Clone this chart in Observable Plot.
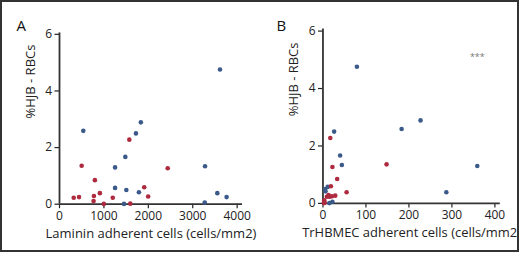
<!DOCTYPE html>
<html>
<head>
<meta charset="utf-8">
<script src="https://cdn.jsdelivr.net/npm/d3@7"></script>
<script src="https://cdn.jsdelivr.net/npm/@observablehq/plot@0.6"></script>
<style>
  html, body { margin: 0; padding: 0; background: #fff; }
  #wrap { position: relative; width: 520px; height: 257px; overflow: hidden; background: #fff; }
  #frame { position: absolute; left: 0; top: 0; width: 519px; height: 252px; overflow: hidden; }
  #border { position: absolute; left: 0; top: 0; width: 519px; height: 252px; box-sizing: border-box; border: 2px solid #333; pointer-events: none; }
  .panel { position: absolute; top: 0; }
</style>
</head>
<body>
<div id="wrap">
  <div id="frame">
    <div class="panel" id="panelA" style="left:0px"></div>
    <div class="panel" id="panelB" style="left:260px"></div>
  </div>
  <div id="border"></div>
</div>
<script>
// ---- data ----
const blueHJB      = [4.76, 2.89, 2.59, 2.50, 1.67, 1.34, 1.30, 0.575, 0.50, 0.42, 0.39, 0.25, 0.06, 0.01];
const blueLaminin  = [3613, 1832, 536, 1721, 1482, 3277, 1251, 1251, 1505, 1788, 3553, 3762, 3270, 1452];
const blueTrHBMEC  = [79, 227, 183, 26, 40, 44, 359, 11, 5, 6, 287, 13, 22, 15];

const redHJB       = [2.28, 1.36, 1.27, 0.85, 0.60, 0.39, 0.29, 0.27, 0.25, 0.23, 0.23, 0.11, 0.02, 0.01];
const redLaminin   = [1572, 499, 2436, 797, 1907, 909, 775, 1996, 440, 320, 1199, 767, 1594, 998];
const redTrHBMEC   = [17, 148, 22, 33, 18.5, 55, 13, 28.6, 21, 16, 9, 3, 4, 2];

const xTicksA = [0, 1000, 2000, 3000, 4000];
const xTicksB = [0, 100, 200, 300, 400];
const yTicks  = [0, 2, 4, 6];

const yLabel  = "%HJB - RBCs";
const xLabelA = "Laminin adherent cells (cells/mm2)";
const xLabelB = "TrHBMEC adherent cells (cells/mm2)";
const signif  = "***";

const blueColor = "#3b5a8a";
const redColor  = "#ae2a3e";
const font = "Open Sans";

const blueA = blueHJB.map((v, i) => ({x: blueLaminin[i], y: v}));
const redA  = redHJB.map((v, i) => ({x: redLaminin[i], y: v}));
const blueB = blueHJB.map((v, i) => ({x: blueTrHBMEC[i], y: v}));
const redB  = redHJB.map((v, i) => ({x: redTrHBMEC[i], y: v}));

function panel({letter, blue, red, xDomain, yDomain, xTicks, xLabel, ml, mr, mt, extra = []}) {
  return Plot.plot({
    width: 260, height: 257,
    marginLeft: ml, marginRight: mr, marginTop: mt, marginBottom: 53.3,
    x: {domain: xDomain},
    y: {domain: yDomain},
    style: {fontFamily: font, color: "#222", background: "transparent", overflow: "visible"},
    marks: [
      Plot.axisX({ticks: xTicks, tickFormat: d3.format("d"), tickSize: 4.5, tickPadding: 3, fontSize: 12, label: null, strokeWidth: 1.2}),
      Plot.axisY({ticks: yTicks, tickFormat: d3.format("d"), tickSize: 4.5, tickPadding: 3, fontSize: 12, label: null, strokeWidth: 1.2}),
      Plot.ruleX([0], {stroke: "#333", strokeWidth: 1.8}),
      Plot.ruleY([0], {stroke: "#333", strokeWidth: 1.8}),
      Plot.dot(blue, {x: "x", y: "y", r: 2.3, fill: blueColor, stroke: null}),
      Plot.dot(red, {x: "x", y: "y", r: 2.3, fill: redColor, stroke: null}),
      Plot.text([xLabel], {frameAnchor: "bottom", dy: 34, fontSize: 13, fill: "#222"}),
      Plot.text([yLabel], {frameAnchor: "left", rotate: -90, dx: -29, fontSize: 13, fill: "#222"}),
      Plot.text([letter], {frameAnchor: "top-left", dx: 16 - ml, dy: 20 - mt, fontSize: 15, fill: "#111"}),
      ...extra
    ]
  });
}

document.getElementById("panelA").appendChild(panel({
  letter: "A", blue: blueA, red: redA,
  xDomain: [0, 4120], yDomain: [0, 6.05], xTicks: xTicksA, xLabel: xLabelA,
  ml: 59, mr: 18, mt: 32.4
}));

document.getElementById("panelB").appendChild(panel({
  letter: "B", blue: blueB, red: redB,
  xDomain: [0, 412.5], yDomain: [0, 6.07], xTicks: xTicksB, xLabel: xLabelB,
  ml: 62.7, mr: 19.3, mt: 28.7,
  extra: [Plot.text([signif], {x: 359, y: 5.1, fontSize: 9, fill: "#777"})]
}));
</script>
</body>
</html>
